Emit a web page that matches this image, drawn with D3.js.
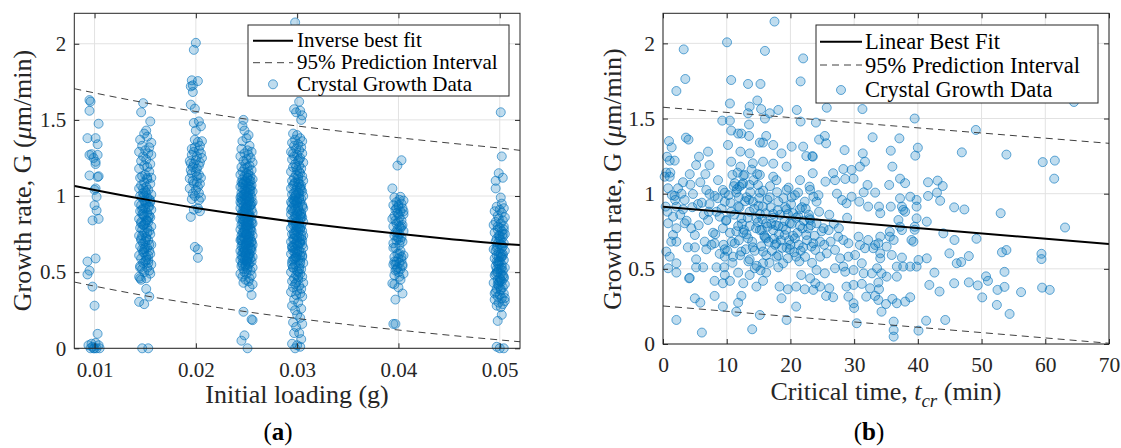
<!DOCTYPE html>
<html><head><meta charset="utf-8">
<script src="https://cdn.jsdelivr.net/npm/d3@7"></script>
<style>body{margin:0;background:#fff}svg{display:block}</style>
</head><body>
<svg id="c" width="1121" height="448"></svg>
<script>
// ---------------- DATA ----------------
// Panel (a): initial loading groups, points as [x jitter (1e-4 g), G]
const loadingCenters = [0.010, 0.015, 0.020, 0.025, 0.030, 0.040, 0.050];
const g010 = [[-5,1.63],[-4,1.62],[-5,1.56],[4,1.475],[-7,1.38],[1,1.38],[3,1.34],[-5,1.27],[-3,1.275],[3,1.27],[1,1.225],[1,1.21],[-1,1.25],[-5,1.135],[4,1.13],[3,1.125],[0,1.04],[2,.995],[0,.94],[2,.905],[-2,.84],[4,.85],[-7,.57],[1,.59],[-5,.51],[-7,.485],[-2,.405],[0,.28],[3,.095],[-6,.02],[-4,0],[-2,.01],[0,0],[2,0],[4,.02],[5,0],[-3,.03],[1,.035],[-1,0],[1,1.05]];
const g015 = [[-2,1.61],[-4,1.55],[5,1.49],[1,1.43],[-1,1.41],[2,1.39],[-5,1.37],[6,1.35],[-3,1.33],[4,1.32],[0,1.30],[-6,1.29],[3,1.28],[6,1.27],[-2,1.26],[1,1.24],[-4,1.23],[5,1.21],[-1,1.2],[2,1.19],[-6,1.18],[4,1.16],[0,1.14],[-3,1.13],[6,1.12],[-5,1.12],[2,1.11],[-1,1.09],[5,1.08],[-4,1.07],[1,1.06],[-6,1.05],[3,1.04],[0,1.03],[-2,1.02],[6,1.01],[-5,1.0],[2,.99],[-3,.99],[4,.98],[-1,.97],[5,.96],[-6,.95],[1,.95],[-4,.94],[3,.93],[0,.92],[-2,.92],[6,.91],[-5,.90],[2,.89],[-3,.88],[4,.87],[-1,.87],[5,.86],[-6,.85],[1,.84],[-4,.83],[3,.83],[0,.82],[-2,.81],[6,.80],[-5,.79],[2,.79],[-3,.78],[4,.77],[-1,.76],[5,.75],[-6,.74],[1,.73],[-4,.72],[3,.71],[0,.70],[-2,.69],[6,.68],[-5,.67],[2,.66],[-3,.65],[4,.64],[-1,.63],[5,.62],[-6,.61],[1,.60],[-4,.59],[3,.58],[0,.57],[-2,.56],[6,.55],[-5,.54],[2,.53],[-3,.52],[4,.51],[-1,.50],[5,.49],[-6,.47],[1,.46],[-4,.45],[-5,.46],[1,.39],[4,.34],[-6,.305],[-1,.29],[-3,0],[3,0],[2,1.12],[-2,1.05],[4,.93],[-4,.82],[1,.72],[-1,.65],[3,.56],
  [0,.96],[-3,.91],[3,.86],[-1,.81],[2,.76],[-4,.71],[4,.68],[-2,.63],[1,.58],[-5,.53],[5,.97],[-1,1.00],[2,.84],[-3,.74],[0,.66],[3,.61],[-2,.88],[1,1.02]];
const g020 = [[0,2.006],[-2,1.96],[-4,1.76],[2,1.755],[-3,1.727],[-3,1.683],[-5,1.60],[-1,1.574],[-2,1.48],[5,1.458],[2,1.355],[3,1.30],[-2,1.29],[0,1.235],[-5,1.213],[1,1.18],[-4,1.148],[3,1.14],[-6,1.115],[-2,1.082],[2,1.06],[-3,1.016],[3,.972],[-5,.863],[-1,.666],[2,.65],[2,.594],[4,1.33],[-1,1.32],[5,1.28],[-4,1.27],[1,1.26],[4,1.22],[-2,1.21],[3,1.20],[-5,1.17],[0,1.16],[5,1.12],[-3,1.10],[1,1.09],[4,1.08],[-6,1.05],[0,1.04],[3,1.02],[-1,1.0],[5,.99],[-4,.98],[2,.92],[-2,.91],[4,.90],[-6,1.23],[6,1.25],[-1,1.37],[6,1.36],[-4,1.31],[1,1.13],[-3,1.19],[3,1.49],[-5,1.72],[0,1.43]];
const g025 = [[-3,1.50],[-2,1.43],[-4,1.36],[0,1.38],[3,1.33],[-5,1.31],[1,1.30],[5,1.29],[-2,1.28],[2,1.27],[-6,1.26],[4,1.25],[0,1.24],[-3,1.23],[6,1.22],[-1,1.21],[3,1.20],[-5,1.19],[1,1.19],[-2,1.18],[5,1.17],[-4,1.16],[2,1.16],[0,1.15],[-6,1.14],[4,1.13],[-2,1.13],[1,1.12],[-4,1.11],[6,1.11],[-1,1.10],[3,1.10],[-5,1.09],[0,1.09],[2,1.08],[-3,1.08],[5,1.07],[-1,1.07],[-6,1.06],[3,1.06],[1,1.05],[-4,1.05],[4,1.04],[-2,1.04],[0,1.03],[6,1.03],[-5,1.02],[2,1.02],[-3,1.01],[4,1.01],[-1,1.00],[1,1.00],[-6,.99],[5,.99],[-2,.98],[3,.98],[0,.97],[-4,.97],[2,.96],[6,.96],[-1,.95],[-5,.95],[4,.94],[1,.94],[-3,.93],[3,.93],[-6,.92],[0,.92],[5,.91],[-2,.91],[2,.90],[-4,.90],[6,.89],[-1,.89],[1,.88],[-5,.88],[3,.87],[-3,.87],[0,.86],[4,.86],[-6,.85],[2,.85],[-2,.84],[5,.84],[-4,.83],[1,.83],[6,.82],[-1,.82],[3,.81],[-5,.81],[0,.80],[-3,.80],[4,.79],[2,.79],[-6,.78],[-2,.78],[5,.77],[1,.77],[-4,.76],[3,.76],[0,.75],[-1,.75],[6,.74],[-5,.74],[2,.73],[-3,.73],[4,.72],[-2,.72],[1,.71],[-6,.71],[5,.70],[-4,.70],[3,.69],[0,.69],[-1,.68],[6,.68],[-5,.67],[2,.67],[-3,.66],[4,.66],[1,.65],[-2,.65],[-6,.64],[5,.64],[0,.63],[-4,.63],[3,.62],[-1,.62],[2,.61],[-5,.61],[6,.60],[-3,.60],[1,.59],[4,.59],[-2,.58],[-6,.58],[0,.57],[5,.57],[-4,.56],[3,.56],[2,.55],[-1,.55],[-5,.54],[6,.53],[-3,.52],[1,.52],[4,.51],[-2,.50],[0,.49],[-6,.49],[5,.48],[-4,.47],[3,.46],[-1,.45],[2,.44],[-3,.43],[6,.42],[3,.40],[5,.35],[-3,.24],[5,.19],[6,.185],[-2,.085],[-5,.05],[1,0],[-4,1.46],[2,1.40],
  [1,1.12],[-3,1.09],[4,1.06],[-1,1.03],[2,1.00],[-5,.98],[5,.95],[0,.93],[-2,.90],[3,.88],[-4,.85],[1,.83],[-1,.80],[4,.78],[-3,.76],[2,.73],[-5,.71],[0,.69],[5,.66],[-2,.64],[3,.62],[-4,.59],[1,.57],[-1,.54],[2,1.14],[-4,1.08],[3,1.04],[-2,1.01],[0,.99],[-6,.96],[4,.94],[-1,.91],[2,.87],[-3,.84],[5,.82],[0,.79],[-2,.77],[3,.74],[-5,.72],[1,.70],[-1,.67],[4,.65],[-3,.63],[2,.60],[0,.58],[-4,.55],[1,.53],[3,.97],[-2,.86],[0,.75],[-4,.68],[2,.71],[-1,.92],[4,1.10],[-5,1.00],[1,.81],[-3,.89],[5,.70],[-1,.61],[2,.83]];
const g030 = [[-2,2.14],[2,1.62],[-3,1.57],[3,1.56],[5,1.53],[4,1.50],[-1,1.55],[-4,1.41],[0,1.40],[3,1.38],[-2,1.37],[5,1.36],[-5,1.35],[1,1.34],[-3,1.33],[4,1.32],[-1,1.31],[2,1.30],[-6,1.29],[5,1.28],[0,1.27],[-3,1.26],[3,1.25],[-5,1.24],[1,1.23],[6,1.22],[-2,1.21],[2,1.20],[-4,1.19],[4,1.18],[0,1.17],[-6,1.16],[3,1.15],[-1,1.14],[5,1.13],[-3,1.12],[1,1.11],[-5,1.10],[6,1.10],[-2,1.09],[2,1.08],[-4,1.07],[4,1.07],[0,1.06],[-6,1.05],[3,1.05],[-1,1.04],[5,1.03],[-3,1.02],[1,1.02],[-5,1.01],[6,1.00],[-2,1.00],[2,.99],[-4,.98],[4,.98],[0,.97],[-6,.96],[3,.96],[-1,.95],[5,.94],[-3,.94],[1,.93],[-5,.92],[6,.92],[-2,.91],[2,.90],[-4,.90],[4,.89],[0,.88],[-6,.88],[3,.87],[-1,.86],[5,.86],[-3,.85],[1,.84],[-5,.84],[6,.83],[-2,.82],[2,.82],[-4,.81],[4,.80],[0,.80],[-6,.79],[3,.78],[-1,.78],[5,.77],[-3,.76],[1,.76],[-5,.75],[6,.74],[-2,.74],[2,.73],[-4,.72],[4,.72],[0,.71],[-6,.70],[3,.70],[-1,.69],[5,.68],[-3,.68],[1,.67],[-5,.66],[6,.66],[-2,.65],[2,.64],[-4,.64],[4,.63],[0,.62],[-6,.62],[3,.61],[-1,.60],[5,.60],[-3,.59],[1,.58],[-5,.57],[6,.56],[-2,.55],[2,.54],[-4,.53],[4,.52],[0,.51],[-6,.50],[3,.49],[-1,.48],[5,.47],[-3,.46],[1,.45],[-5,.44],[6,.43],[-2,.42],[2,.41],[-4,.40],[4,.39],[0,.38],[-6,.37],[3,.36],[-1,.35],[5,.34],[-3,.32],[1,.30],[-5,.28],[4,.26],[-2,.25],[0,.22],[3,.20],[-4,.17],[5,.16],[-1,.14],[2,.10],[-3,.10],[4,.06],[-5,.03],[0,.02],[3,.01],[-2,0],[1,.92],[-1,.81],[3,.69],[-4,.58],[2,1.16],[-2,.97],
  [1,1.13],[-3,1.08],[4,1.04],[-1,1.01],[2,.98],[-5,.95],[5,.93],[0,.90],[-2,.87],[3,.85],[-4,.82],[1,.79],[-1,.77],[4,.74],[-3,.72],[2,.69],[-5,.67],[0,.64],[5,.61],[-2,.59],[3,.56],[-4,.53],[1,.50],[-1,1.19],[2,1.24],[-4,1.28],[3,1.06],[-2,.99],[0,.96],[-6,.91],[4,.86],[-1,.83],[2,.80],[-3,.75],[5,.71],[0,.68],[-2,.63],[3,.58],[-5,.55],[1,.47],[-1,.43],[4,.88],[-3,.97],[2,1.02],[0,.73],[-4,.66],[1,1.09],[3,.79],[-1,.60],[2,.52]];
const g040 = [[3,1.235],[-1,1.20],[-6,1.05],[2,.995],[1,.975],[-4,.99],[5,.97],[-2,.96],[3,.95],[-5,.94],[0,.93],[4,.92],[-3,.91],[2,.90],[-1,.89],[5,.88],[-4,.87],[1,.86],[-6,.85],[3,.84],[0,.83],[-2,.82],[4,.81],[-5,.80],[2,.79],[-1,.78],[5,.77],[-3,.76],[1,.75],[-4,.74],[3,.73],[0,.72],[-2,.71],[4,.70],[-5,.69],[1,.68],[-3,.66],[2,.64],[-1,.62],[5,.61],[-4,.60],[0,.59],[3,.58],[-2,.57],[1,.56],[-5,.55],[4,.54],[-1,.53],[2,.52],[-3,.51],[0,.50],[5,.49],[-4,.48],[1,.47],[-6,.426],[4,.36],[-3,.32],[-5,.16],[-3,.16],[-2,.92],[1,.80],[-1,.73],[3,.60],[-3,.55],[2,.45],[-4,.42],[0,.40],
  [0,.88],[-3,.84],[3,.80],[-1,.76],[2,.71],[-4,.57],[4,.55],[-2,.52],[1,.62],[-5,.66],[5,.90],[0,.94]];
const g050 = [[1,1.55],[2,1.26],[-1,1.15],[-4,1.10],[3,1.12],[-4,1.05],[1,.99],[2,.95],[-3,.93],[4,.92],[0,.91],[-5,.90],[2,.89],[-2,.87],[5,.86],[-1,.85],[3,.84],[-4,.83],[1,.82],[-6,.81],[4,.80],[0,.79],[-2,.78],[2,.77],[-5,.76],[5,.75],[-1,.74],[3,.73],[-3,.72],[1,.71],[-4,.70],[4,.69],[0,.68],[-2,.67],[2,.66],[-6,.65],[5,.64],[-1,.63],[3,.62],[-3,.61],[1,.60],[-5,.59],[4,.58],[0,.57],[-2,.56],[2,.55],[-4,.54],[5,.53],[-1,.52],[3,.51],[-3,.50],[1,.49],[-5,.48],[4,.47],[0,.46],[-2,.45],[2,.44],[-6,.43],[5,.42],[-1,.41],[3,.40],[-3,.39],[1,.38],[-4,.37],[4,.36],[0,.35],[-2,.34],[2,.33],[-5,.32],[5,.31],[-1,.30],[3,.29],[-3,.28],[1,.27],[2,.22],[-2,.18],[-3,.01],[0,0],[4,0],[-1,.55],[1,.52],[-3,.57],[3,.48],[-1,.43],[2,.60],[-4,.64],[0,.74],[4,.78],[-2,.50],[1,.45],[-1,.70],[3,.67],
  [0,.72],[-3,.66],[3,.61],[-1,.57],[2,.53],[-4,.49],[4,.46],[-2,.42],[1,.39],[-5,.36],[5,.33],[-1,.60],[2,.68],[-3,.52],[0,.44],[3,.75],[-2,.80],[1,.62]];
const loadingGroups = [g010, g015, g020, g025, g030, g040, g050];

// Panel (a) fit curves
const fitAx = [0.008,0.010,0.015,0.020,0.025,0.030,0.035,0.040,0.045,0.050,0.052];
const fitAy = [1.067,1.040,0.978,0.922,0.873,0.828,0.788,0.752,0.718,0.687,0.678];
const fitAup = [1.705,1.677,1.612,1.555,1.505,1.460,1.420,1.383,1.348,1.315,1.300];
const fitAlo = [0.435,0.408,0.345,0.290,0.240,0.196,0.156,0.120,0.086,0.055,0.043];

// Panel (b): [critical time (min), G]
const tcrData = [[17.5,2.145],[10.05,2.007],[3.25,1.96],[16.0,1.95],[22.0,1.90],[3.5,1.763],[10.7,1.756],[21.6,1.747],[13.35,1.73],[15.3,1.73],[2.1,1.683],[14.8,1.62],[10.5,1.60],[13.6,1.579],[15.4,1.563],[18.1,1.557],[21.0,1.557],[13.35,1.535],[16.75,1.535],[16.0,1.50],[9.3,1.486],[10.5,1.486],[21.6,1.48],[13.5,1.46],[10.7,1.42],[11.8,1.40],[12.3,1.40],[13.5,1.384],[16.2,1.384],[3.6,1.373],[4.0,1.36],[0.94,1.35],[15.2,1.34],[15.7,1.34],[10.2,1.324],[17.3,1.324],[20.2,1.313],[22.0,1.313],[1.36,1.308],[7.07,1.28],[12.15,1.28],[13.6,1.268],[18.6,1.268],[22.5,1.25],[23.45,1.25],[0.63,1.246],[5.65,1.246],[1.05,1.22],[1.83,1.22],[10.7,1.213],[15.7,1.213],[14.1,1.202],[17.3,1.20],[5.2,1.19],[7.3,1.19],[12.15,1.18],[19.4,1.18],[0.5,1.14],[1.15,1.14],[4.2,1.13],[6.65,1.13],[10.9,1.125],[12.8,1.125],[15.2,1.125],[0.26,1.113],[1.05,1.113],[17.3,1.113],[8.64,1.09],[17.8,1.09],[21.5,1.09],[3.14,1.076],[5.86,1.076],[11.26,1.07],[12.57,1.07],[13.6,1.058],[14.9,1.058],[12.0,1.047],[23.0,1.047],[0.8,1.036],[2.36,1.036],[6.8,1.025],[9.4,1.025],[19.4,1.025],[9.7,1.007],[11.5,1.007],[15.2,1.007],[21.2,1.007],[4.7,0.998],[7.3,0.998],[1.83,0.985],[8.1,0.985],[11.9,0.976],[13.1,0.976],[16.75,0.976],[20.2,0.976],[1.9,0.958],[3.4,0.958],[9.7,0.947],[14.1,0.947],[18.1,0.947],[22.25,0.947],[5.5,0.931],[7.3,0.931],[0.42,0.914],[2.1,0.914],[11.8,0.914],[15.7,0.914],[3.14,0.896],[19.4,0.896],[21.5,0.896],[8.4,0.88],[10.7,0.88],[13.6,0.88],[15.2,0.865],[17.3,0.865],[19.6,0.865],[1.57,0.847],[8.9,0.847],[12.3,0.836],[14.66,0.836],[23.0,0.836],[7.07,0.825],[9.95,0.825],[0.8,0.803],[3.4,0.803],[16.2,0.803],[19.9,0.803],[11.8,0.785],[13.6,0.785],[18.1,0.785],[21.5,0.785],[2.1,0.77],[4.45,0.77],[9.4,0.77],[15.2,0.758],[17.3,0.758],[7.85,0.74],[10.5,0.74],[12.6,0.74],[1.57,0.725],[5.0,0.725],[19.1,0.725],[22.5,0.725],[13.35,0.703],[16.2,0.703],[20.7,0.703],[1.3,0.681],[2.1,0.681],[6.55,0.681],[8.1,0.67],[11.26,0.67],[17.8,0.67],[3.9,0.643],[5.0,0.643],[14.1,0.643],[22.0,0.643],[6.8,0.63],[9.7,0.63],[19.9,0.63],[0.52,0.615],[12.3,0.615],[15.7,0.615],[1.05,0.581],[9.7,0.581],[11.0,0.581],[17.8,0.581],[20.9,0.581],[5.2,0.563],[13.6,0.563],[2.1,0.537],[15.7,0.537],[18.85,0.537],[5.2,0.51],[6.3,0.51],[8.4,0.51],[18.1,0.51],[0.8,0.504],[14.4,0.504],[2.1,0.475],[11.8,0.475],[16.2,0.475],[9.7,0.459],[13.6,0.459],[21.7,0.459],[4.1,0.437],[4.2,0.44],[8.1,0.42],[10.5,0.42],[15.7,0.42],[9.4,0.404],[12.6,0.404],[14.66,0.382],[18.3,0.382],[20.9,0.382],[19.6,0.364],[22.25,0.364],[8.1,0.32],[12.3,0.32],[5.0,0.304],[18.6,0.304],[5.86,0.275],[11.8,0.275],[9.4,0.249],[20.9,0.249],[11.5,0.215],[15.2,0.193],[2.1,0.16],[19.4,0.16],[14.0,0.098],[6.1,0.076],
[25.7,1.572],[31.3,1.563],[39.5,1.50],[24.0,1.473],[25.4,1.384],[24.5,1.36],[25.6,1.335],[32.9,1.375],[37.1,1.368],[28.5,1.29],[35.75,1.286],[40.0,1.306],[39.6,1.253],[31.35,1.268],[31.7,1.213],[23.5,1.246],[23.5,1.136],[26.7,1.136],[28.3,1.164],[29.6,1.158],[30.9,1.18],[25.5,1.08],[27.0,1.09],[28.6,1.098],[29.9,1.10],[32.1,1.058],[35.5,1.058],[37.2,1.10],[38.0,1.07],[33.3,1.007],[41.6,1.076],[43.1,1.087],[43.9,1.051],[43.0,1.007],[23.1,1.025],[23.6,0.98],[24.4,0.99],[24.1,0.947],[27.3,1.0],[28.1,0.958],[28.8,0.936],[29.6,0.98],[31.5,1.009],[30.8,0.947],[32.2,0.914],[33.9,0.914],[34.1,0.87],[35.75,0.914],[37.2,0.969],[37.5,0.914],[38.0,0.88],[38.8,0.98],[39.8,0.958],[39.8,0.914],[39.8,0.836],[41.4,0.814],[45.7,0.909],[23.1,0.825],[24.1,0.803],[25.2,0.77],[26.0,0.758],[26.3,0.681],[24.65,0.681],[23.6,0.67],[27.5,0.714],[28.3,0.692],[29.1,0.67],[30.7,0.714],[30.9,0.659],[32.2,0.692],[33.3,0.659],[34.1,0.714],[33.8,0.67],[35.1,0.648],[35.6,0.714],[35.6,0.747],[36.95,0.825],[37.7,0.892],[39.0,0.692],[39.3,0.681],[37.2,0.78],[37.5,0.758],[36.2,0.692],[44.0,0.736],[45.75,0.692],[46.1,0.537],[44.95,0.603],[41.4,0.57],[40.1,0.559],[39.8,0.515],[23.3,0.648],[23.9,0.626],[24.65,0.581],[25.7,0.603],[27.0,0.626],[27.8,0.57],[29.1,0.581],[30.15,0.592],[31.7,0.637],[33.0,0.637],[34.1,0.603],[34.1,0.57],[35.9,0.592],[36.7,0.515],[37.7,0.515],[38.8,0.515],[24.1,0.492],[25.4,0.47],[27.0,0.504],[28.3,0.515],[28.6,0.481],[29.9,0.492],[31.2,0.537],[31.5,0.47],[32.8,0.47],[33.6,0.504],[34.3,0.47],[35.1,0.448],[36.7,0.448],[23.1,0.437],[23.9,0.404],[24.65,0.382],[23.6,0.36],[26.1,0.371],[28.8,0.382],[29.9,0.393],[31.2,0.40],[32.5,0.371],[33.9,0.364],[33.8,0.409],[41.8,0.393],[43.4,0.349],[45.7,0.404],[25.6,0.32],[26.7,0.311],[29.1,0.315],[29.9,0.271],[31.9,0.315],[33.8,0.293],[35.0,0.266],[36.7,0.271],[38.0,0.282],[38.8,0.311],[30.4,0.138],[34.3,0.215],[36.2,0.149],[36.2,0.093],[36.2,0.049],[40.1,0.089],[41.3,0.155],[44.3,0.16],
[64.5,1.61],[49.1,1.424],[46.9,1.275],[53.9,1.26],[59.6,1.21],[61.5,1.22],[61.4,1.10],[36.0,1.18],[41.6,0.985],[43.5,0.953],[47.3,0.895],[53.0,0.87],[39.5,0.78],[39.5,0.76],[63.1,0.775],[49.2,0.70],[48.0,0.585],[53.2,0.61],[53.9,0.625],[59.4,0.60],[59.4,0.565],[37.5,0.575],[46.8,0.545],[42.6,0.475],[48.0,0.41],[49.4,0.39],[50.7,0.45],[51.0,0.42],[53.6,0.48],[52.5,0.36],[53.6,0.38],[59.5,0.375],[60.7,0.36],[56.2,0.345],[50.1,0.31],[52.4,0.26],[54.4,0.20],[36.0,0.30],[33.3,0.32],[30.0,0.24],
[10.3,0.99],[11.1,1.05],[11.6,1.03],[12.4,1.06],[12.9,0.95],[13.7,1.01],[14.3,0.90],[15.1,0.97],[15.6,0.83],[16.4,0.78],[16.9,0.91],[17.4,0.70],[18.2,0.73],[18.7,0.64],[19.3,0.76],[19.8,0.69],[20.4,0.72],[20.9,0.84],[21.3,0.66],[21.9,0.77],[22.6,0.69],[23.2,0.79],[20.1,0.93],[19.1,0.82],[18.4,0.86],[17.7,0.79],[16.6,0.68],[15.9,0.72],[14.6,0.77],[13.3,0.84],[12.7,0.76],[11.9,0.69],[11.2,0.86],[10.6,0.94],[9.9,0.82],[9.2,0.90],[8.6,0.97],[8.2,0.73],[9.5,0.66],[10.1,0.62],[14.2,1.09],[15.4,0.65],[16.2,0.59],[17.1,0.62],[18.1,0.59],[19.6,0.57],[20.6,0.61],[21.4,0.55],[22.3,0.58],[23.4,0.54],[22.9,0.86],[21.8,0.91],[20.7,0.99],[19.7,1.04],[18.9,0.97],[17.9,1.01],[16.8,1.05],[15.7,1.02],[14.8,1.13],[13.9,1.16],[12.6,1.12],[11.7,1.14],[12.1,0.59],[13.4,0.55],[14.7,0.52],[15.3,0.49],[16.7,0.54],[10.9,0.54],[9.6,0.51],[8.9,0.60],[7.6,0.66],[6.4,0.86],[5.6,0.79],[4.6,0.91],[3.7,0.82],[2.7,0.86],[1.4,0.99],[0.7,0.88],[2.9,1.00],[4.3,1.06],[6.1,0.94],[7.2,0.88],
[12.4,0.80],[13.1,0.73],[14.0,0.68],[14.9,0.81],[15.5,0.76],[16.1,0.87],[17.0,0.80],[17.6,0.66],[18.5,0.69],[19.4,0.64],[20.2,0.80],[21.1,0.74],[22.1,0.82],[22.8,0.77],[23.8,0.72],[21.6,0.62],[20.0,0.66],[18.8,0.78],[17.3,0.84],[16.0,0.71],[14.4,0.62],[13.0,0.63],[11.5,0.75],[10.8,0.68],[12.0,0.91],[13.5,0.96],[15.0,0.92],[16.4,0.96],[18.0,0.89],[19.2,0.91],[20.4,0.87],[21.2,0.85],[22.4,0.90],[24.5,0.88],[24.9,0.75],[25.3,0.66],[26.1,0.86],[26.8,0.80],[27.6,0.77],[28.9,0.84]];

// Panel (b) linear fit and prediction interval (read at the axis ends)
const fitBx = [0, 70];
const fitBy = [0.913, 0.665];
const fitBup = [1.575, 1.335];
const fitBlo = [0.253, 0.005];

const yTicks = [0, 0.5, 1, 1.5, 2];
const xTicksA = [0.01, 0.02, 0.03, 0.04, 0.05];
const xTicksB = [0, 10, 20, 30, 40, 50, 60, 70];
const legendA = ["Inverse best fit", "95% Prediction Interval", "Crystal Growth Data"];
const legendB = ["Linear Best Fit", "95% Prediction Interval", "Crystal Growth Data"];

// ---------------- DRAW ----------------
const svg = d3.select("#c");
const FONT = "'Liberation Serif','Times New Roman',serif";
const BLUE = "#0072BD";
const AX = "#262626";

function panel(o) {
  const g = svg.append("g");
  const x = d3.scaleLinear(o.xdom, [o.L, o.R]);
  const y = d3.scaleLinear([0, 2.2], [o.B, o.T]);
  const clipId = "clip" + o.id;
  svg.append("defs").append("clipPath").attr("id", clipId)
    .append("rect").attr("x", o.L).attr("y", o.T).attr("width", o.R - o.L).attr("height", o.B - o.T);

  // grid
  g.append("g").selectAll("line").data(o.xticks).join("line")
    .attr("x1", d => x(d)).attr("x2", d => x(d)).attr("y1", o.T).attr("y2", o.B)
    .attr("stroke", "#e2e2e2").attr("stroke-width", 1);
  g.append("g").selectAll("line").data(yTicks).join("line")
    .attr("y1", d => y(d)).attr("y2", d => y(d)).attr("x1", o.L).attr("x2", o.R)
    .attr("stroke", "#e2e2e2").attr("stroke-width", 1);

  // points
  g.append("g").selectAll("circle").data(o.pts).join("circle")
    .attr("cx", d => x(d[0])).attr("cy", d => y(d[1])).attr("r", 4.5)
    .attr("fill", BLUE).attr("fill-opacity", 0.25)
    .attr("stroke", BLUE).attr("stroke-opacity", 0.6).attr("stroke-width", 1);

  // fit lines
  const line = d3.line().x(d => x(d[0])).y(d => y(d[1])).curve(d3.curveMonotoneX);
  const lg = g.append("g").attr("clip-path", `url(#${clipId})`);
  [o.up, o.lo].forEach(arr => {
    lg.append("path").attr("d", line(o.fx.map((v, i) => [v, arr[i]])))
      .attr("fill", "none").attr("stroke", "#404040").attr("stroke-width", 1)
      .attr("stroke-dasharray", "7,5");
  });
  lg.append("path").attr("d", line(o.fx.map((v, i) => [v, o.fy[i]])))
    .attr("fill", "none").attr("stroke", "#000").attr("stroke-width", 2);

  // axes (inward ticks on all four sides)
  const fs = o.tickFont;
  const styleAxis = sel => {
    sel.select(".domain").remove();
    sel.selectAll("line").attr("stroke", AX);
    sel.selectAll("text").attr("font-family", FONT).attr("font-size", fs).attr("fill", AX);
  };
  g.append("g").attr("transform", `translate(0,${o.B})`)
    .call(d3.axisBottom(x).tickValues(o.xticks).tickFormat(o.xfmt).tickSizeInner(-5).tickSizeOuter(0).tickPadding(o.xpad))
    .call(styleAxis);
  g.append("g").attr("transform", `translate(0,${o.T})`)
    .call(d3.axisTop(x).tickValues(o.xticks).tickFormat(() => "").tickSizeInner(-5).tickSizeOuter(0))
    .call(styleAxis);
  g.append("g").attr("transform", `translate(${o.L},0)`)
    .call(d3.axisLeft(y).tickValues(yTicks).tickFormat(d3.format("~g")).tickSizeInner(-5).tickSizeOuter(0).tickPadding(8))
    .call(styleAxis);
  g.append("g").attr("transform", `translate(${o.R},0)`)
    .call(d3.axisRight(y).tickValues(yTicks).tickFormat(() => "").tickSizeInner(-5).tickSizeOuter(0))
    .call(styleAxis);
  g.append("rect").attr("x", o.L).attr("y", o.T).attr("width", o.R - o.L).attr("height", o.B - o.T)
    .attr("fill", "none").attr("stroke", AX).attr("stroke-width", 1);

  // legend
  const L = o.leg;
  const lgd = g.append("g");
  lgd.append("rect").attr("x", L.x).attr("y", L.y).attr("width", L.w).attr("height", L.h)
    .attr("fill", "#fff").attr("stroke", AX).attr("stroke-width", 1);
  lgd.append("line").attr("x1", L.lx0).attr("x2", L.lx1).attr("y1", L.rows[0]).attr("y2", L.rows[0])
    .attr("stroke", "#000").attr("stroke-width", 2);
  lgd.append("line").attr("x1", L.lx0).attr("x2", L.lx1).attr("y1", L.rows[1]).attr("y2", L.rows[1])
    .attr("stroke", "#404040").attr("stroke-width", 1).attr("stroke-dasharray", "7,5");
  lgd.append("circle").attr("cx", (L.lx0 + L.lx1) / 2).attr("cy", L.rows[2]).attr("r", 4.5)
    .attr("fill", BLUE).attr("fill-opacity", 0.25).attr("stroke", BLUE).attr("stroke-opacity", 0.6);
  lgd.selectAll("text").data(o.legText).join("text")
    .attr("x", L.tx).attr("y", (d, i) => L.base[i])
    .attr("font-family", FONT).attr("font-size", L.fs).attr("fill", "#000").text(d => d);
  return {x, y, g};
}

panel({
  id: "a", L: 74.3, R: 520, T: 13.3, B: 348.3, xdom: [0.008, 0.052],
  xticks: xTicksA, xfmt: d3.format(".2f"), xpad: 14, tickFont: 21,
  pts: loadingGroups.flatMap((grp, gi) => grp.map(p => [loadingCenters[gi] + p[0] * 1e-4, p[1]])),
  fx: fitAx, fy: fitAy, up: fitAup, lo: fitAlo,
  leg: {x: 248, y: 25, w: 261, h: 71, lx0: 253, lx1: 293, rows: [40.7, 62.7, 84.3], tx: 297, base: [46.7, 69.3, 91], fs: 21},
  legText: legendA
});
panel({
  id: "b", L: 663, R: 1109, T: 13.3, B: 344, xdom: [0, 70],
  xticks: xTicksB, xfmt: d3.format("d"), xpad: 13, tickFont: 21.5,
  pts: tcrData,
  fx: fitBx, fy: fitBy, up: fitBup, lo: fitBlo,
  leg: {x: 816, y: 25, w: 282, h: 78, lx0: 820, lx1: 862, rows: [41.7, 65, 90], tx: 865, base: [49.3, 72.7, 97.3], fs: 22.5},
  legText: legendB
});

// axis titles
function yTitle(cx, cy) {
  const t = svg.append("text").attr("transform", `translate(${cx},${cy}) rotate(-90)`)
    .attr("text-anchor", "middle").attr("font-family", FONT).attr("font-size", 26).attr("fill", AX);
  t.append("tspan").text("Growth rate, G (");
  t.append("tspan").attr("font-style", "italic").text("\u03BC");
  t.append("tspan").text("m/min)");
}
yTitle(31, 180.5);
yTitle(620.7, 179);

svg.append("text").attr("x", 297).attr("y", 403).attr("text-anchor", "middle")
  .attr("font-family", FONT).attr("font-size", 26).attr("fill", AX).text("Initial loading (g)");
const xt = svg.append("text").attr("x", 886).attr("y", 400).attr("text-anchor", "middle")
  .attr("font-family", FONT).attr("font-size", 26).attr("fill", AX);
xt.append("tspan").text("Critical time, ");
xt.append("tspan").attr("font-style", "italic").text("t");
xt.append("tspan").attr("font-style", "italic").attr("font-size", 19).attr("dy", 7).text("cr");
xt.append("tspan").attr("dy", -7).text(" (min)");

// panel letters
[["a", 278], ["b", 869]].forEach(([l, cx]) => {
  const t = svg.append("text").attr("x", cx).attr("y", 440).attr("text-anchor", "middle")
    .attr("font-family", FONT).attr("font-size", 25).attr("fill", "#000");
  t.append("tspan").text("(");
  t.append("tspan").attr("font-weight", "bold").text(l);
  t.append("tspan").text(")");
});
</script>
</body></html>
